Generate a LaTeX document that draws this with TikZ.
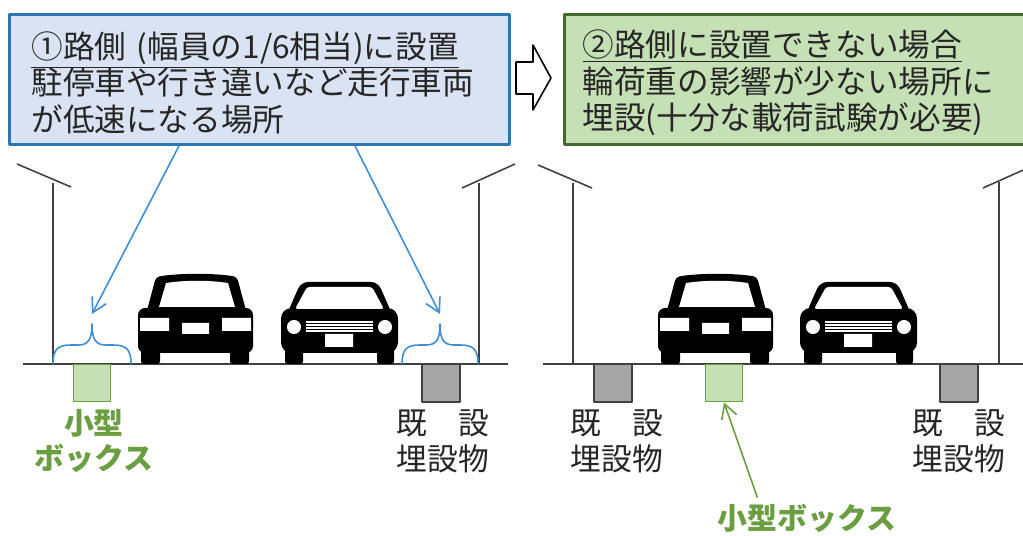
\documentclass[tikz,border=0pt]{standalone}
\usepackage{fontspec}
\setmainfont{Noto Sans CJK JP}
\usetikzlibrary{arrows.meta,positioning,calc}
\definecolor{boxblue}{RGB}{218,227,243}
\definecolor{lineblue}{RGB}{46,117,182}
\definecolor{markblue}{RGB}{62,142,214}
\definecolor{boxgreen}{RGB}{197,224,180}
\definecolor{darkgreen}{RGB}{67,106,45}
\definecolor{labgreen}{RGB}{106,158,64}
\definecolor{pipegray}{RGB}{166,166,166}
\definecolor{inkgray}{RGB}{64,64,64}
\definecolor{txt}{RGB}{38,38,38}

% front views of the two cars, origin at the left wheel on the ground
\tikzset{
  sedan/.pic={
    \fill[rounded corners=1.5pt] (3,-16) rectangle (22,0) (92,-16) rectangle (111,0);
    \fill[rounded corners=4pt] (0,-56) rectangle (115,-11);
    \fill[rounded corners=2pt] (8,-50) -- (18,-87) .. controls (40,-91) and (78,-91) .. (99,-87) -- (109,-50) -- cycle;
    \fill[white] (21,-57) -- (28,-81) .. controls (48,-84) and (70,-84) .. (90,-81) -- (97,-57) -- cycle;
    \fill[white] (2,-46) rectangle (31,-33) (84,-46) rectangle (113,-33) (44,-41) rectangle (71,-30);
  },
  compact/.pic={
    \fill[rounded corners=1.5pt] (4,-16) rectangle (22,0) (96,-16) rectangle (113,0);
    \fill[rounded corners=6pt] (0,-56) rectangle (117,-11);
    \fill[rounded corners=4pt] (6,-50) -- (20,-82) -- (97,-82) -- (111,-50) -- cycle;
    \fill[white, rounded corners=1.5pt] (14,-55) -- (26,-77) -- (91,-77) -- (103,-55) -- cycle;
    \fill[white] (13,-37) circle[radius=4pt] (104,-37) circle[radius=4pt] (44,-30) rectangle (72,-17);
    \foreach \g in {-42,-39,-36,-33} \draw[white, line width=0.9pt] (25,\g) -- (92,\g);
  }
}

\begin{document}
\begin{tikzpicture}[x=0.02cm, y=-0.02cm, line join=round,
    infobox/.style={draw, line width=1.7pt, anchor=north west, minimum height=2.6cm,
      align=left, text=txt, font=\fontsize{18pt}{20.8pt}\selectfont},
    newbox/.style={draw=labgreen, fill=boxgreen, line width=1.1pt, minimum size=0.74cm, inner sep=0pt},
    oldbox/.style={draw=inkgray, fill=pipegray, line width=1.2pt, minimum size=0.76cm, inner sep=0pt},
    newlabel/.style={text=labgreen, align=center, font=\bfseries\fontsize{17pt}{20.4pt}\selectfont},
    oldlabel/.style={text=txt, align=left, font=\fontsize{17.5pt}{20.4pt}\selectfont},
    pole/.style={draw=inkgray, line width=0.9pt},
    brace line/.style={draw=markblue, line width=0.9pt},
    pointer/.style={markblue, line width=0.9pt, -{Straight Barb[length=8pt,width=9pt]}}]
  \useasboundingbox (0,0) rectangle (1023,536);

  % two cases, side by side
  \node[infobox, draw=lineblue, fill=boxblue, minimum width=10cm, text width=9.12cm, inner xsep=0.44cm]
    (lbox) at (8,13)
    {\rule{0pt}{19pt}\underline{①路側 (幅員の1/6相当)に設置}\\駐停車や行き違いなど走行車両\\が低速になる場所};
  \node[infobox, draw=darkgreen, fill=boxgreen, minimum width=9.6cm, text width=8.88cm, inner xsep=0.36cm]
    (rbox) at (563,13)
    {\rule{0pt}{19pt}\underline{②路側に設置できない場合}\\輪荷重の影響が少ない場所に\\埋設(十分な載荷試験が必要)};
  \draw[black, line width=0.9pt, fill=white]
    (516,62) -- (533,62) -- (533,45) -- (551,78) -- (533,110) -- (533,94) -- (516,94) -- cycle;

  % road section 1
  \draw[pole] (23,364) -- (508,364);
  \draw[pole] (53,364) -- (53,183);
  \draw[pole] (17,164) -- (71,187);
  \draw[pole] (479,364) -- (479,183);
  \draw[pole] (462,188) -- (515,164);
  \pic at (138,364) {sedan};
  \pic at (281,364) {compact};
  \draw[brace line] (53,364) .. controls (53,349) and (58,345) .. (71,345) -- (78,345)
    .. controls (88,345) and (92,340) .. (92,324) .. controls (92,340) and (96,345) .. (106,345)
    -- (113,345) .. controls (126,345) and (131,349) .. (131,364);
  \draw[brace line] (402,364) .. controls (402,349) and (407,345) .. (420,345) -- (426,345)
    .. controls (436,345) and (440,340) .. (440,324) .. controls (440,340) and (444,345) .. (454,345)
    -- (460,345) .. controls (473,345) and (478,349) .. (478,364);
  \coordinate (ltip) at (92,314);
  \coordinate (rtip) at (440,314);
  \draw[pointer] ($(lbox.south west)!0.34!(lbox.south east)$) -- (ltip);
  \draw[pointer] ($(lbox.south west)!0.69!(lbox.south east)$) -- (rtip);
  \node[newbox] (smallbox1) at (92,383) {};
  \node[oldbox] (oldpipe1) at (441,383) {};
  \node[newlabel] (smalllabel1) at (94,441) {小型\\ボックス};
  \node[oldlabel] (oldlabel1) at (443,441) {既　設\\埋設物};

  % road section 2
  \draw[pole] (543,364) -- (1030,364);
  \draw[pole] (573,364) -- (573,183);
  \draw[pole] (538,165) -- (592,188);
  \draw[pole] (999,364) -- (999,182);
  \draw[pole] (983,188) -- (1030,167);
  \pic at (658,364) {sedan};
  \pic at (800,364) {compact};
  \node[oldbox] (oldpipe2) at (613,383) {};
  \node[newbox] (smallbox2) at (724,383) {};
  \node[oldbox] (oldpipe3) at (959,383) {};
  \node[oldlabel] (oldlabel2) at (617,441) {既　設\\埋設物};
  \node[oldlabel] (oldlabel3) at (959,441) {既　設\\埋設物};
  \node[newlabel] (smalllabel2) at (807,518) {小型ボックス};
  \draw[pointer, labgreen] ($(smalllabel2.north west)!0.24!(smalllabel2.north east)$) -- (smallbox2.south);
\end{tikzpicture}
\end{document}
